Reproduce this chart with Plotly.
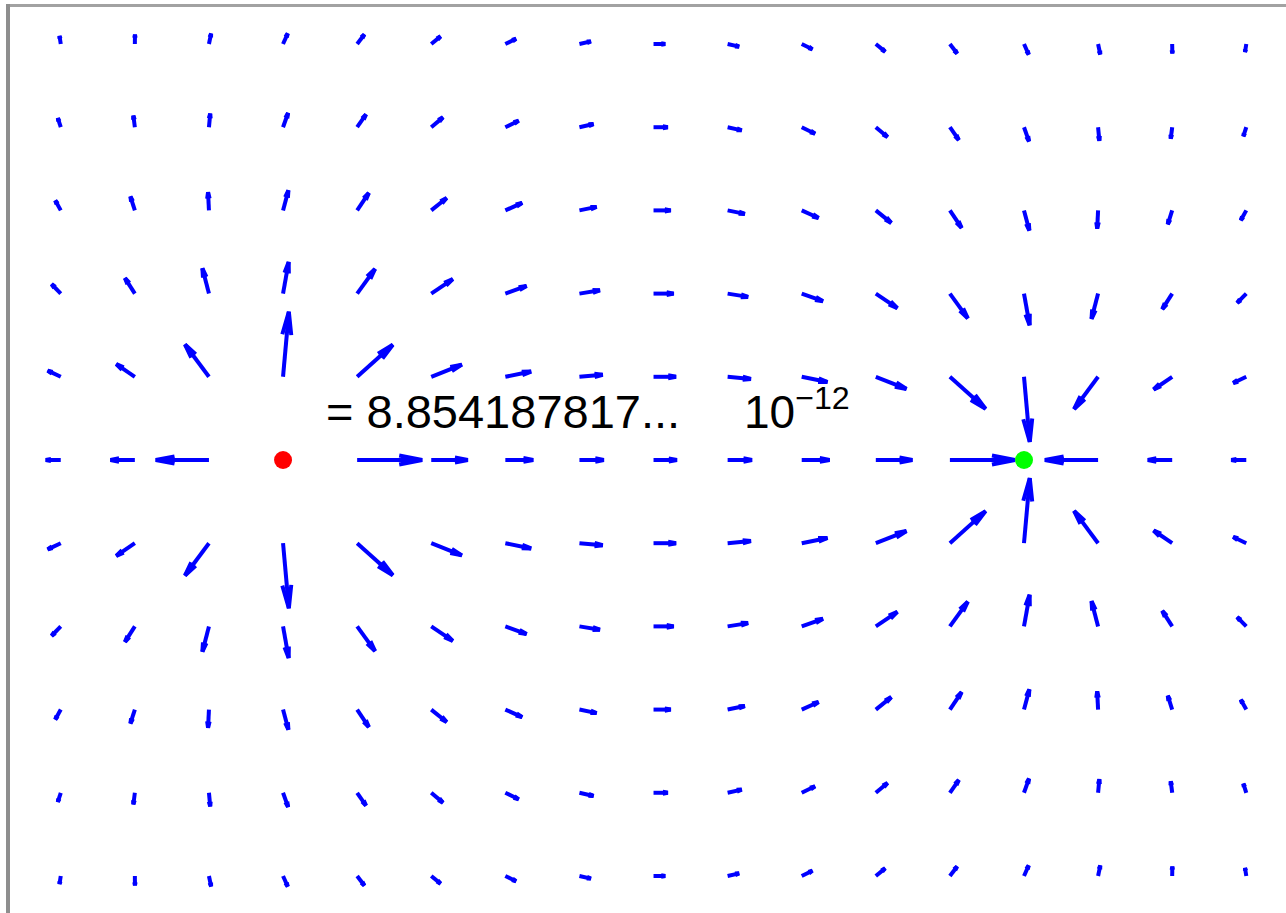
import math
import plotly.graph_objects as go

# ---------------- data ----------------
GRID_X = list(range(-8, 9))          # 17 columns of field samples
GRID_Y = list(range(-5, 6))          # 11 rows of field samples
CHARGE_X = [-5, 5]                   # charge positions
CHARGE_Y = [0, 0]
CHARGE_Q = [1, -1]                   # positive (red), negative (green)
CHARGE_COLORS = ["#ff0000", "#00ff00"]
LABEL_MAIN = "= 8.854187817..."
LABEL_EXP = "10<sup>−12</sup>"

# ---------------- layout constants ----------------
W, H = 1286, 913
X_RANGE = [-8.82, 8.536]
Y_RANGE = [-5.445, 5.529]
PX_X = W / (X_RANGE[1] - X_RANGE[0])
PX_Y = H / (Y_RANGE[1] - Y_RANGE[0])
SCALE = 0.79            # arrow length per field unit (x data units)
HEAD_FRAC = 0.36
HEAD_ANG = math.radians(11)


def field(px, py):
    ex = ey = 0.0
    for cx, cy, q in zip(CHARGE_X, CHARGE_Y, CHARGE_Q):
        dx, dy = px - cx, py - cy
        r2 = dx * dx + dy * dy
        if r2 == 0:
            return None
        ex += q * dx / r2
        ey += q * dy / r2
    return ex, ey


xs, ys = [], []
for gy in GRID_Y:
    for gx in GRID_X:
        e = field(gx, gy)
        if e is None:
            continue
        ex, ey = e
        vx = SCALE * ex * PX_X
        vyp = SCALE * ey * PX_Y
        L = math.hypot(vx, vyp)
        if L == 0:
            continue
        tipx = gx + vx / PX_X
        tipy = gy + vyp / PX_Y
        ang = math.atan2(vyp, vx)
        hl = HEAD_FRAC * L
        b1x = tipx - hl * math.cos(ang + HEAD_ANG) / PX_X
        b1y = tipy - hl * math.sin(ang + HEAD_ANG) / PX_Y
        b2x = tipx - hl * math.cos(ang - HEAD_ANG) / PX_X
        b2y = tipy - hl * math.sin(ang - HEAD_ANG) / PX_Y
        xs += [gx, tipx, None, b1x, tipx, b2x, None]
        ys += [gy, tipy, None, b1y, tipy, b2y, None]

fig = go.Figure()
fig.add_trace(go.Scatter(x=xs, y=ys, mode="lines",
                         line=dict(color="#0000ff", width=4),
                         hoverinfo="skip", showlegend=False))
fig.add_trace(go.Scatter(x=CHARGE_X, y=CHARGE_Y, mode="markers",
                         marker=dict(size=18, color=CHARGE_COLORS, line=dict(width=0)),
                         hoverinfo="skip", showlegend=False))

font = "Liberation Sans, Arial, sans-serif"
fig.add_annotation(xref="paper", yref="paper", x=324 / W, y=1 - 440 / H,
                   xanchor="left", yanchor="bottom", showarrow=False,
                   text=LABEL_MAIN, font=dict(family=font, size=47, color="black"))
fig.add_annotation(xref="paper", yref="paper", x=742 / W, y=1 - 440 / H,
                   xanchor="left", yanchor="bottom", showarrow=False,
                   text=LABEL_EXP, font=dict(family=font, size=46, color="black"))

# container border (top and left edges visible)
fig.add_shape(type="line", xref="paper", yref="paper",
              x0=6 / W, x1=1.0, y0=1 - 5.5 / H, y1=1 - 5.5 / H,
              line=dict(color="#a2a2a2", width=3))
fig.add_shape(type="line", xref="paper", yref="paper",
              x0=8 / W, x1=8 / W, y0=0, y1=1 - 4 / H,
              line=dict(color="#8e8e8e", width=4))

fig.update_layout(width=W, height=H, margin=dict(l=0, r=0, t=0, b=0),
                  paper_bgcolor="white", plot_bgcolor="white",
                  xaxis=dict(range=X_RANGE, visible=False, fixedrange=True),
                  yaxis=dict(range=Y_RANGE, visible=False, fixedrange=True))

fig.write_html("out.html", config={"displayModeBar": False},
               post_script="document.body.style.margin='0px';")
